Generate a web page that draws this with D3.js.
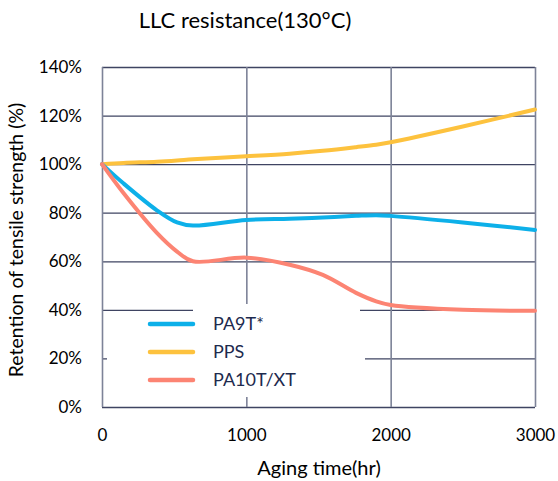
<!DOCTYPE html>
<html><head><meta charset="utf-8">
<script src="https://cdn.jsdelivr.net/npm/d3@7/dist/d3.min.js"></script>
<style>body{margin:0;background:#fff}svg{display:block}text{font-family:Lato,"Open Sans",sans-serif}</style>
</head><body>
<svg id="c" width="558" height="481"></svg>
<script>
const title = "LLC resistance(130°C)";
const xLabel = "Aging time(hr)";
const yLabel = "Retention of tensile strength (%)";
const xTicks = [0, 1000, 2000, 3000];
const yTicks = [0, 20, 40, 60, 80, 100, 120, 140];
const seriesNames = ["PA9T*", "PPS", "PA10T/XT"];
const seriesColors = ["#0db0e9", "#fdc23e", "#fc8473"];
const hours = [0, 150, 380, 520, 630, 1000, 1300, 1530, 1760, 1900, 2000, 2500, 3000];
const pa9t  = [100, 92, 81, 76, 74.7, 77, 77.5, 78, 78.7, 79, 78.7, 76, 72.9];
const pps   = [100, 100.5, 101, 101.5, 102, 103.2, 104.3, 105.5, 107, 108, 109, 115.5, 122.5];
const pa10t = [100, 88, 71.7, 64, 60, 61.5, 58.6, 54.4, 47, 43.5, 42, 40, 39.6];
const seriesValues = [pa9t, pps, pa10t];

const svg = d3.select("#c");
const m = {l:102, r:535, t:67, b:407};
const x = d3.scaleLinear().domain([0, 3000]).range([m.l, m.r]);
const y = d3.scaleLinear().domain([0, 140]).range([m.b, m.t]);

// horizontal grid
svg.append("g").attr("transform", `translate(${m.l},0)`)
  .call(d3.axisLeft(y).tickValues(yTicks).tickSize(-(m.r-m.l)).tickFormat(""))
  .call(g => g.select(".domain").remove())
  .call(g => g.selectAll("line").attr("stroke", "#3f4462").attr("stroke-width", 1.3));
// vertical grid
svg.append("g").attr("transform", `translate(0,${m.t})`)
  .call(d3.axisTop(x).tickValues(xTicks).tickSize(-(m.b-m.t)).tickFormat(""))
  .call(g => g.select(".domain").remove())
  .call(g => g.selectAll("line").attr("stroke", "#7d8398").attr("stroke-width", 1.6));

// legend background (covers part of the grid)
const lg = svg.append("g");
lg.append("rect").attr("x", 193).attr("y", 304).attr("width", 167).attr("height", 9).attr("fill", "#fff");
lg.append("rect").attr("x", 107).attr("y", 312).attr("width", 258).attr("height", 85).attr("fill", "#fff");

// y tick labels
svg.append("g").attr("transform", `translate(${m.l},0)`)
  .call(d3.axisLeft(y).tickValues(yTicks).tickSize(0).tickPadding(20).tickFormat(d => d + "%"))
  .call(g => g.select(".domain").remove())
  .call(g => g.selectAll("text").attr("font-size", 17).attr("fill", "#000").style("font-family", "Lato"));
// x tick labels
svg.append("g").attr("transform", `translate(0,${m.b})`)
  .call(d3.axisBottom(x).tickValues(xTicks).tickSize(0).tickPadding(22).tickFormat(d3.format("d")))
  .call(g => g.select(".domain").remove())
  .call(g => g.selectAll("text").attr("font-size", 17).attr("fill", "#000").style("font-family", "Lato"));

// lines
const line = d3.line().x((d,i) => x(hours[i])).y(d => y(d)).curve(d3.curveCatmullRom.alpha(0.5));
const order = [1, 0, 2];
order.forEach(k => {
  svg.append("path").attr("d", line(seriesValues[k])).attr("fill", "none")
    .attr("stroke", seriesColors[k]).attr("stroke-width", 4).attr("stroke-linecap", "round");
});

// legend
seriesNames.forEach((n, i) => {
  const yy = 324 + i * 28;
  lg.append("line").attr("x1", 150).attr("x2", 193).attr("y1", yy).attr("y2", yy)
    .attr("stroke", seriesColors[i]).attr("stroke-width", 4.5).attr("stroke-linecap", "round");
  lg.append("text").attr("x", 213).attr("y", yy + 6).attr("font-size", 18).attr("fill", "#1d2a4e").text(n);
});

// titles
svg.append("text").attr("x", 245).attr("y", 28).attr("text-anchor", "middle").attr("font-size", 22).attr("fill", "#000").text(title);
svg.append("text").attr("x", 319).attr("y", 475).attr("text-anchor", "middle").attr("font-size", 20).attr("fill", "#000").text(xLabel);
svg.append("text").attr("transform", "translate(23,240) rotate(-90)").attr("text-anchor", "middle").attr("font-size", 19.5).attr("fill", "#000").text(yLabel);
</script>
</body></html>
